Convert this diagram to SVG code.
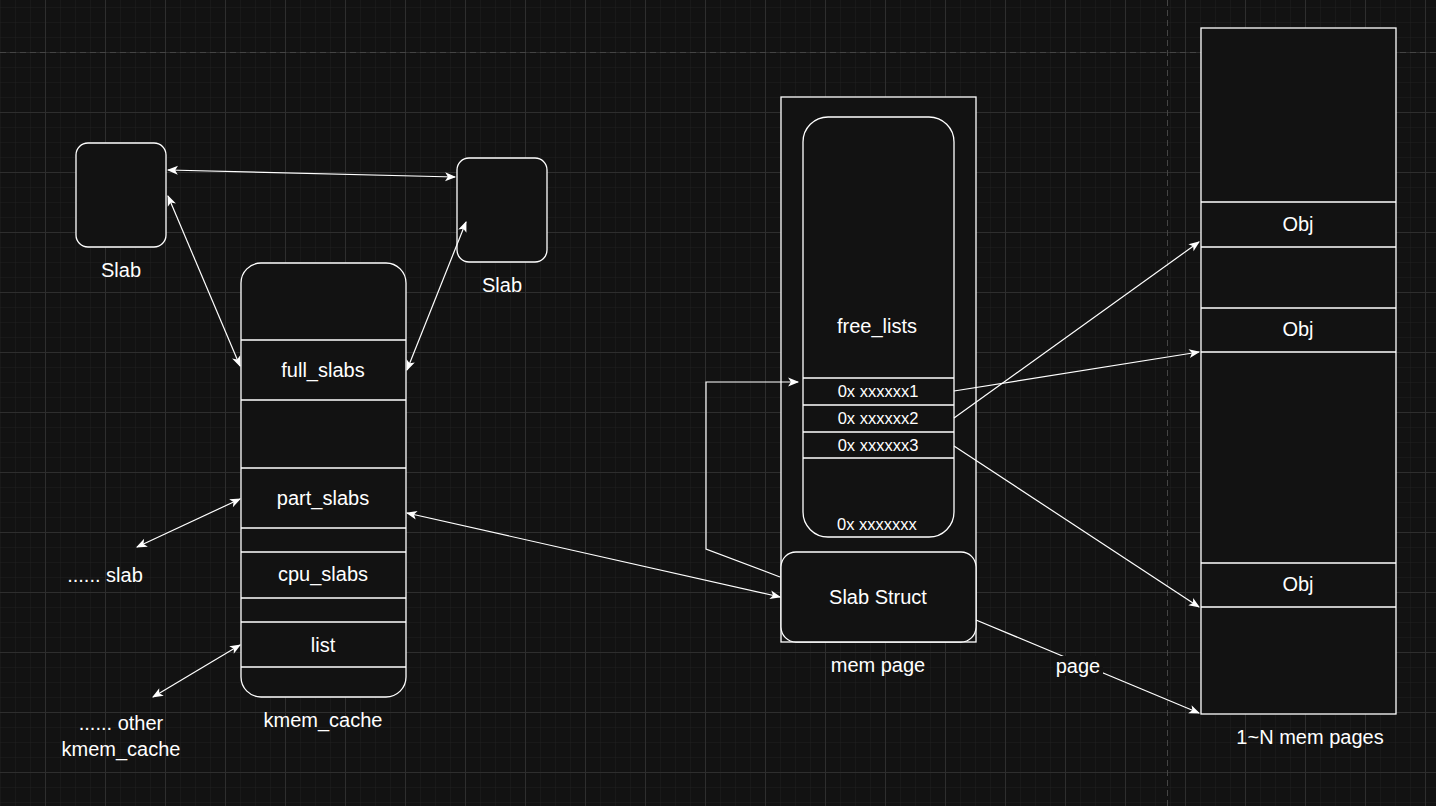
<svg xmlns="http://www.w3.org/2000/svg" width="1436" height="806" viewBox="0 0 1436 806">
<defs>
<pattern id="minor" width="15" height="15" patternUnits="userSpaceOnUse" x="0" y="7"><path d="M0 0H15M0 0V15" fill="none" stroke="#202020" stroke-width="1"/></pattern>
<pattern id="major" width="60" height="60" patternUnits="userSpaceOnUse" x="45" y="52"><path d="M0 0.5H60M0.5 0V60" fill="none" stroke="#2e2e2e" stroke-width="1"/></pattern>
<marker id="ah" viewBox="0 0 10 10" refX="9" refY="5" markerWidth="11" markerHeight="11" orient="auto-start-reverse" markerUnits="userSpaceOnUse" style="overflow:visible"><path d="M0 1L10 5L0 9L2.5 5Z" fill="#fff"/></marker>
<style>
.s{fill:#121212;stroke:#fff;stroke-width:1.3}
.l{stroke:#fff;stroke-width:1.3;fill:none}
text{font-family:"Liberation Sans",Arial,sans-serif;font-size:20px;fill:#fff;text-anchor:middle}
.sm{font-size:16.5px}
.c{stroke:#fff;stroke-width:1.2;fill:none}
</style>
</defs>
<rect width="1436" height="806" fill="#121212"/>
<rect width="1436" height="806" fill="url(#minor)"/>
<rect width="1436" height="806" fill="url(#major)"/>
<line x1="0" y1="52.5" x2="1436" y2="52.5" stroke="#444" stroke-dasharray="6 4"/>
<line x1="1167.5" y1="0" x2="1167.5" y2="806" stroke="#444" stroke-dasharray="6 4"/>

<g id="slab1"><rect class="s" x="76" y="143" width="90" height="104" rx="12"/><text x="121" y="277">Slab</text></g>
<g id="slab2"><rect class="s" x="457" y="158" width="90" height="104" rx="12"/><text x="502" y="292">Slab</text></g>

<g id="kmem_cache">
<rect class="s" x="241" y="263" width="165" height="434" rx="20"/>
<path class="l" d="M241 340H406M241 400H406M241 468H406M241 528H406M241 552H406M241 598H406M241 622H406M241 667H406"/>
<text x="323" y="377">full_slabs</text>
<text x="323" y="505">part_slabs</text>
<text x="323" y="581">cpu_slabs</text>
<text x="323" y="652">list</text>
<text x="323" y="727">kmem_cache</text>
</g>
<g id="other"><text x="105" y="582">...... slab</text><text x="121" y="730">...... other</text><text x="121" y="756">kmem_cache</text></g>

<g id="mem_page">
<rect class="s" x="781" y="97" width="195" height="545"/>
<rect class="s" x="803" y="117" width="151" height="420" rx="25"/>
<path class="l" d="M803 378H954M803 405H954M803 432H954M803 458H954"/>
<text x="877" y="333">free_lists</text>
<text class="sm" x="878" y="397">0x xxxxxx1</text>
<text class="sm" x="878" y="424">0x xxxxxx2</text>
<text class="sm" x="878" y="451">0x xxxxxx3</text>
<text class="sm" x="877" y="530">0x xxxxxxx</text>
<rect class="s" x="781" y="552" width="195" height="90" rx="15"/>
<text x="878" y="604">Slab Struct</text>
<text x="878" y="672">mem page</text>
</g>

<g id="pages">
<rect class="s" x="1201" y="28" width="195" height="686"/>
<path class="l" d="M1201 202H1396M1201 247H1396M1201 308H1396M1201 352H1396M1201 563H1396M1201 607H1396"/>
<text x="1298" y="231">Obj</text>
<text x="1298" y="336">Obj</text>
<text x="1298" y="591">Obj</text>
<text x="1310" y="744">1~N mem pages</text>
</g>

<g id="connectors">
<line class="c" x1="168" y1="170" x2="455" y2="177" marker-start="url(#ah)" marker-end="url(#ah)"/>
<line class="c" x1="168" y1="196" x2="240" y2="366" marker-start="url(#ah)" marker-end="url(#ah)"/>
<line class="c" x1="466" y1="222" x2="407" y2="370" marker-start="url(#ah)" marker-end="url(#ah)"/>
<line class="c" x1="240" y1="499" x2="137" y2="547" marker-start="url(#ah)" marker-end="url(#ah)"/>
<line class="c" x1="240" y1="645" x2="153" y2="697" marker-start="url(#ah)" marker-end="url(#ah)"/>
<line class="c" x1="407" y1="513" x2="780" y2="597" marker-start="url(#ah)" marker-end="url(#ah)"/>
<polyline class="c" points="780,577 706,549 706,382 798,382" marker-end="url(#ah)"/>
<line class="c" x1="954" y1="391" x2="1199" y2="352" marker-end="url(#ah)"/>
<line class="c" x1="954" y1="418" x2="1199" y2="242" marker-end="url(#ah)"/>
<line class="c" x1="954" y1="446" x2="1199" y2="607" marker-end="url(#ah)"/>
<line class="c" x1="976" y1="620" x2="1199" y2="713" marker-end="url(#ah)"/>
<rect x="1053" y="656" width="50" height="20" fill="#121212"/>
<text x="1078" y="673">page</text>
</g>
</svg>
